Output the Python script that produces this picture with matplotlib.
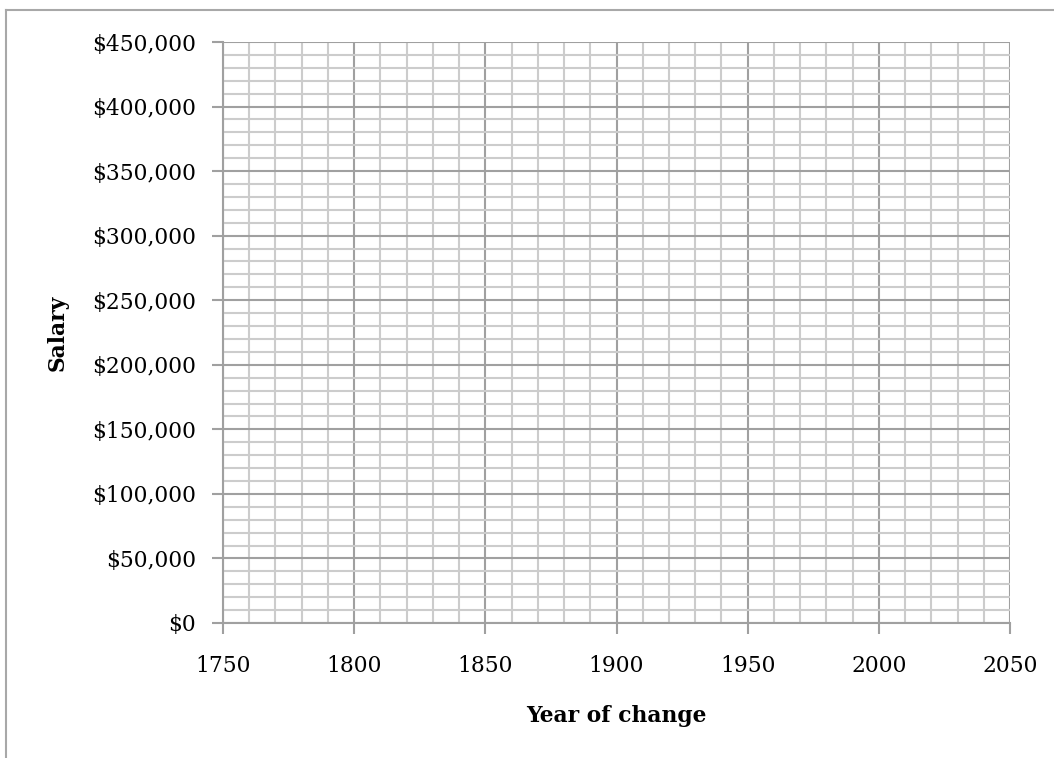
import matplotlib
matplotlib.use("Agg")
import matplotlib.pyplot as plt
from matplotlib.lines import Line2D
from matplotlib.ticker import MultipleLocator, FuncFormatter

# Axis definitions (empty chart template)
x_ticks = [1750, 1800, 1850, 1900, 1950, 2000, 2050]
y_ticks = [0, 50000, 100000, 150000, 200000, 250000, 300000, 350000, 400000, 450000]
x_minor_step = 10
y_minor_step = 10000
x_label = "Year of change"
y_label = "Salary"

plt.rcParams['font.family'] = ['DejaVu Serif']

W, H = 1054, 758
fig = plt.figure(figsize=(W / 100, H / 100), dpi=100)
left, right, top, bottom = 223, 1010, 42, 623
ax = fig.add_axes([left / W, 1 - bottom / H, (right - left) / W, (bottom - top) / H])

ax.set_xlim(x_ticks[0], x_ticks[-1])
ax.set_ylim(y_ticks[0], y_ticks[-1])
ax.set_xticks(x_ticks)
ax.set_yticks(y_ticks)
ax.xaxis.set_minor_locator(MultipleLocator(x_minor_step))
ax.yaxis.set_minor_locator(MultipleLocator(y_minor_step))
ax.yaxis.set_major_formatter(FuncFormatter(lambda v, p: "${:,.0f}".format(v)))

ax.grid(which='minor', color='#cccccc', linewidth=1.5, zorder=0)
ax.grid(which='major', color='#a0a0a0', linewidth=1.5, zorder=1)
ax.set_axisbelow(True)

for s in ['top', 'right']:
    ax.spines[s].set_visible(False)
for s in ['left', 'bottom']:
    ax.spines[s].set_color('#a0a0a0')
    ax.spines[s].set_linewidth(1.5)

fs = 15.7
ax.tick_params(which='major', length=8, width=1.5, color='#a0a0a0',
               labelsize=fs, labelcolor='black')
ax.tick_params(which='minor', length=0)
ax.tick_params(axis='x', pad=15)
ax.tick_params(axis='y', pad=11.5)

ax.set_xlabel(x_label, fontsize=fs, fontweight='bold', labelpad=20)
ax.set_ylabel(y_label, fontsize=fs, fontweight='bold', labelpad=17)

# Outer chart border (top and left edges visible)
fig.add_artist(Line2D([6 / W, 1], [1 - 10 / H, 1 - 10 / H], transform=fig.transFigure,
                      color='#a8a8a8', linewidth=1.5))
fig.add_artist(Line2D([6 / W, 6 / W], [1 - 10 / H, 0], transform=fig.transFigure,
                      color='#a8a8a8', linewidth=1.5))

fig.savefig("out.png", dpi=100)
